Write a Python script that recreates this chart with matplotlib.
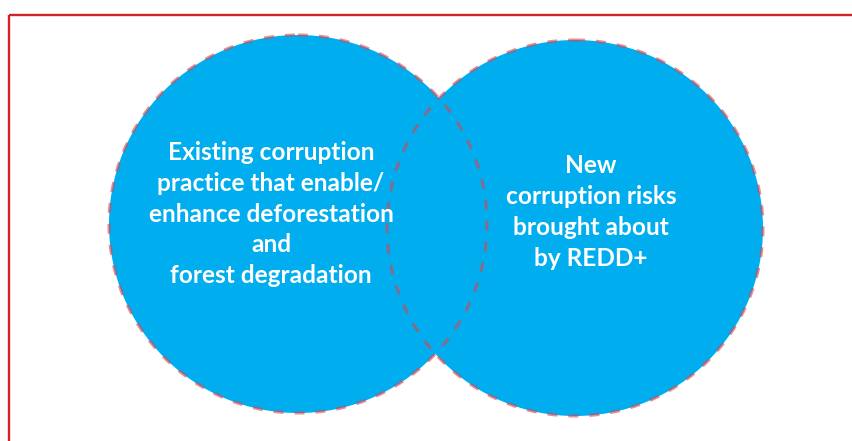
import matplotlib.pyplot as plt
from matplotlib.patches import Circle, Rectangle

# labels of the two sets
set_labels = [
    "Existing corruption\npractice that enable/\nenhance deforestation\nand\nforest degradation",
    "New\ncorruption risks\nbrought about\nby REDD+",
]

W, H = 853, 441
fill_blue = "#00aeef"
dash_col = "#d9434f"
frame_red = "#d2232a"

# circle layout in pixel space (centre x, centre y, radius)
circles = [(298, 224, 189), (575, 228, 188)]
text_pos = [(271, 214), (591, 212)]

fig = plt.figure(figsize=(W / 100, H / 100), dpi=100)
ax = fig.add_axes([0, 0, 1, 1])
ax.set_xlim(0, W)
ax.set_ylim(H, 0)
ax.set_aspect("equal")
ax.axis("off")

# red frame, open to the right and bottom edges
ax.add_patch(Rectangle((9, 15), W + 20, H + 20, fill=False,
                       edgecolor=frame_red, linewidth=1.7, zorder=1))

for cx, cy, r in circles:
    ax.add_patch(Circle((cx, cy), r, facecolor=fill_blue,
                        edgecolor="none", zorder=2))

lw = 2.2
for cx, cy, r in circles:
    ax.add_patch(Circle((cx, cy), r, fill=False, edgecolor=dash_col,
                        alpha=0.6, linewidth=lw,
                        linestyle=(0, (7.2 / lw, 7.9 / lw)), zorder=3))

for (tx, ty), label in zip(text_pos, set_labels):
    ax.text(tx, ty, label, ha="center", va="center", multialignment="center",
            color="white", fontsize=17.6, fontweight="bold",
            family=["Lato", "DejaVu Sans"], linespacing=1.42, zorder=4)

fig.savefig("out.png", dpi=100)
plt.close(fig)
